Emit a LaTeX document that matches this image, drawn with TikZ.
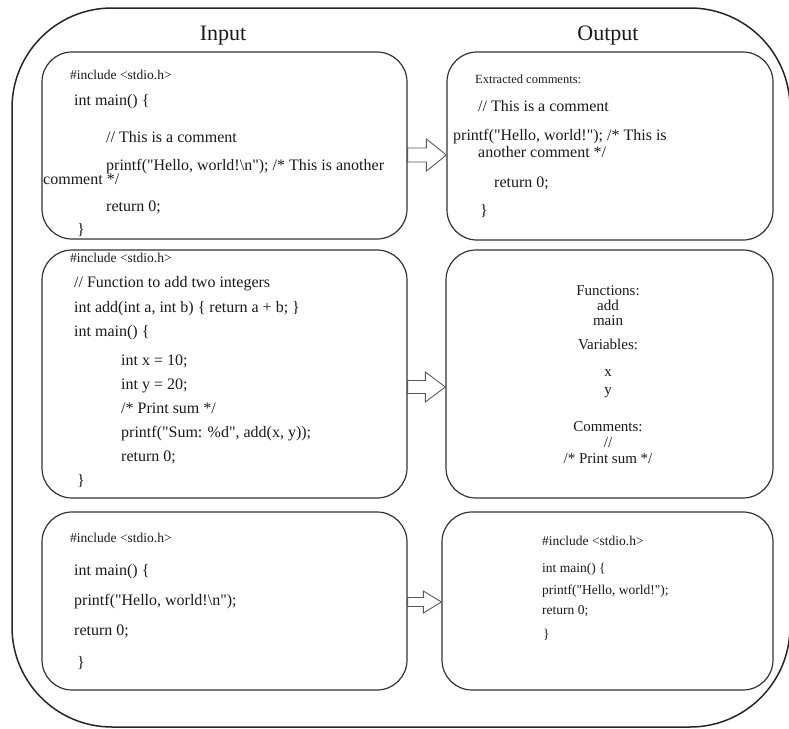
\documentclass[tikz,border=0pt]{standalone}
\usepackage{fontspec}
\setmainfont{Liberation Serif}[Ligatures=TeXOff]
\usetikzlibrary{calc}
\tikzset{
  outerframe/.style={draw=black!85, line width=1.5pt, rounded corners=100pt},
  box/.style={draw=black!80, line width=1.2pt, rounded corners=30pt, inner sep=0pt},
  blockarrow/.style={draw=black!65, line width=0.9pt, fill=white},
  title/.style={anchor=base, inner sep=0pt, text=black!90, font=\fontsize{22}{26}\selectfont},
  code/.style={anchor=base west, inner sep=0pt, text=black!90, font=\fontsize{16}{19}\selectfont},
  smallcode/.style={code, font=\fontsize{13.5}{16}\selectfont},
  tinycode/.style={code, font=\fontsize{12.5}{15}\selectfont},
  centre/.style={anchor=base, inner sep=0pt, text=black!90, font=\fontsize{15}{18}\selectfont},
}
% from node, to node, y centre, shaft half, head half, head length
\newcommand\blockarr[6]{%
  \draw[blockarrow] let \p1=(#1.east), \p2=(#2.west) in
    (\x1,#3pt+#4pt) -- (\x2-#6pt,#3pt+#4pt) -- (\x2-#6pt,#3pt+#5pt) -- (\x2,#3pt)
    -- (\x2-#6pt,#3pt-#5pt) -- (\x2-#6pt,#3pt-#4pt) -- (\x1,#3pt-#4pt) -- cycle;}
\begin{document}
\begin{tikzpicture}[x=1pt,y=1pt]
\useasboundingbox (0,0) rectangle (789,-728);
\draw[outerframe] (12,-8) rectangle (790,-727);

\node[title] (tin) at (223,-40) {Input};
\node[title] (tout) at (608,-40) {Output};

% boxes
\node[box, minimum width=365pt, minimum height=187pt] (tl) at (224.5,-145.5) {};
\node[box, minimum width=326pt, minimum height=188pt] (tr) at (610,-146) {};
\node[box, minimum width=365pt, minimum height=248pt] (ml) at (224.5,-374) {};
\node[box, minimum width=327pt, minimum height=248pt] (mr) at (609.5,-374) {};
\node[box, minimum width=365pt, minimum height=178pt] (bl) at (224.5,-601) {};
\node[box, minimum width=331pt, minimum height=178pt] (br) at (607.5,-601) {};

% arrows
\blockarr{tl}{tr}{-155}{7}{16}{20}
\blockarr{ml}{mr}{-387}{6.5}{15}{20}
\blockarr{bl}{br}{-602}{4.5}{11}{18}

% top-left
\node[smallcode] (tl1) at (70,-79) {\#include <stdio.h>};
\node[code] (tl2) at (74,-105) {int main() \{};
\node[code] (tl3) at (106,-142) {// This is a comment};
\node[code] (tl4) at (106,-170) {printf("Hello, world!\textbackslash n"); /* This is another};
\node[code] (tl5) at (43,-184) {comment */};
\node[code] (tl6) at (106,-211) {return 0;};
\node[code] (tl7) at (77,-234) {\}};

% top-right
\node[tinycode] (tr1) at (475,-83) {Extracted comments:};
\node[code] (tr2) at (478,-111) {// This is a comment};
\node[code] (tr3) at (453,-140) {printf("Hello, world!"); /* This is};
\node[code] (tr4) at (478,-157) {another comment */};
\node[code] (tr5) at (494,-187) {return 0;};
\node[code] (tr6) at (480,-215) {\}};

% middle-left
\node[smallcode] (ml1) at (70,-262) {\#include <stdio.h>};
\node[code] (ml2) at (74,-287) {// Function to add two integers};
\node[code] (ml3) at (74,-312) {int add(int a, int b) \{ return a + b; \}};
\node[code] (ml4) at (74,-336) {int main() \{};
\node[code] (ml5) at (121,-365) {int x = 10;};
\node[code] (ml6) at (121,-389) {int y = 20;};
\node[code] (ml7) at (121,-413) {/* Print sum */};
\node[code] (ml8) at (121,-437) {printf("Sum: \%d", add(x, y));};
\node[code] (ml9) at (121,-461) {return 0;};
\node[code] (ml10) at (77,-485) {\}};

% middle-right
\node[centre] (mr1) at (608,-295) {Functions:};
\node[centre] (mr2) at (608,-310) {add};
\node[centre] (mr3) at (608,-325) {main};
\node[centre] (mr4) at (608,-349) {Variables:};
\node[centre] (mr5) at (608,-376) {x};
\node[centre] (mr6) at (608,-394) {y};
\node[centre] (mr7) at (608,-431) {Comments:};
\node[centre] (mr8) at (608,-447) {//};
\node[centre] (mr9) at (608,-463) {/* Print sum */};

% bottom-left
\node[smallcode] (bl1) at (70,-542) {\#include <stdio.h>};
\node[code] (bl2) at (74,-575) {int main() \{};
\node[code] (bl3) at (74,-605) {printf("Hello, world!\textbackslash n");};
\node[code] (bl4) at (74,-635) {return 0;};
\node[code] (bl5) at (77,-667) {\}};

% bottom-right
\node[smallcode] (br1) at (542,-545) {\#include <stdio.h>};
\node[smallcode] (br2) at (542,-572) {int main() \{};
\node[smallcode] (br3) at (542,-594) {printf("Hello, world!");};
\node[smallcode] (br4) at (542,-614) {return 0;};
\node[smallcode] (br5) at (543,-638) {\}};
\end{tikzpicture}
\end{document}
